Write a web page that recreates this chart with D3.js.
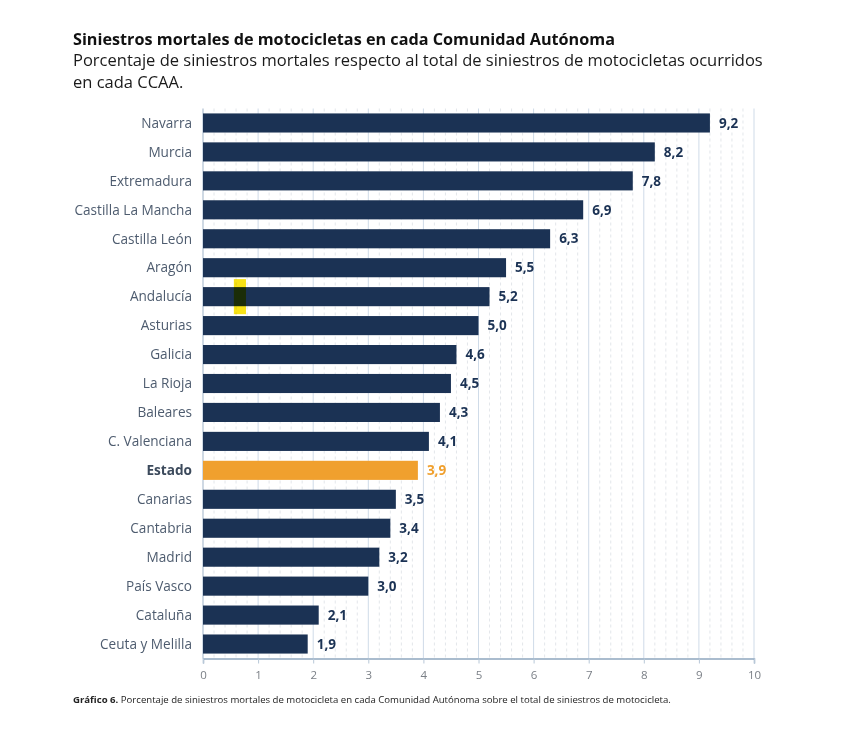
<!DOCTYPE html>
<html>
<head>
<meta charset="utf-8">
<script src="https://cdn.jsdelivr.net/npm/d3@7"></script>
<style>
  body { margin: 0; background: #fff; }
  svg { display: block; }
</style>
</head>
<body>
<svg id="chart" width="862" height="752"></svg>
<script>
const regions = ['Navarra', 'Murcia', 'Extremadura', 'Castilla La Mancha', 'Castilla León', 'Aragón',
  'Andalucía', 'Asturias', 'Galicia', 'La Rioja', 'Baleares', 'C. Valenciana', 'Estado', 'Canarias',
  'Cantabria', 'Madrid', 'País Vasco', 'Cataluña', 'Ceuta y Melilla'];
const values = [9.2, 8.2, 7.8, 6.9, 6.3, 5.5, 5.2, 5.0, 4.6, 4.5, 4.3, 4.1, 3.9, 3.5, 3.4, 3.2, 3.0, 2.1, 1.9];
const xTicks = [0, 1, 2, 3, 4, 5, 6, 7, 8, 9, 10];
const highlighted = 'Estado';

const title = 'Siniestros mortales de motocicletas en cada Comunidad Autónoma';
const subtitle = ['Porcentaje de siniestros mortales respecto al total de siniestros de motocicletas ocurridos',
  'en cada CCAA.'];
const captionBold = 'Gráfico 6.';
const captionText = ' Porcentaje de siniestros mortales de motocicleta en cada Comunidad Autónoma sobre el total de siniestros de motocicleta.';

const navy = '#1b3254';
const orange = '#f0a02e';
const font = '"Open Sans", "Noto Sans", sans-serif';

const data = regions.map((r, i) => ({ region: r, value: values[i] }));

const svg = d3.select('#chart');
const margin = { left: 203, right: 108, top: 108.5, bottom: 93.5 };
const width = 862 - margin.left - margin.right;
const height = 752 - margin.top - margin.bottom;

const x = d3.scaleLinear().domain([0, 10]).range([0, width]);
const y = d3.scaleBand().domain(regions).range([0, height]).paddingInner(0.34).paddingOuter(0.17);

// titles
svg.append('text')
  .attr('x', 73).attr('y', 45)
  .attr('font-family', font).attr('font-weight', 700).attr('font-size', 16)
  .attr('fill', '#111').attr('textLength', 542).attr('lengthAdjust', 'spacingAndGlyphs')
  .text(title);

svg.selectAll('.sub')
  .data(subtitle)
  .join('text')
  .attr('class', 'sub')
  .attr('x', 73).attr('y', (d, i) => 66 + i * 22)
  .attr('font-family', font).attr('font-size', 16.5)
  .attr('fill', '#1a1a1a')
  .text((d) => d);

const g = svg.append('g').attr('transform', `translate(${margin.left},${margin.top})`);

// minor dashed grid
const minor = d3.range(0, 10.001, 0.2).filter((v) => Math.abs(v - Math.round(v)) > 0.01);
g.append('g')
  .selectAll('line')
  .data(minor)
  .join('line')
  .attr('x1', (d) => x(d)).attr('x2', (d) => x(d))
  .attr('y1', 0).attr('y2', height)
  .attr('stroke', '#dcdfe4').attr('stroke-width', 0.8)
  .attr('stroke-dasharray', '3,3');

// major grid
g.append('g')
  .selectAll('line')
  .data(xTicks.slice(1))
  .join('line')
  .attr('x1', (d) => x(d)).attr('x2', (d) => x(d))
  .attr('y1', 0).attr('y2', height)
  .attr('stroke', '#cfdbe8').attr('stroke-width', 1);

// left axis line
g.append('line')
  .attr('x1', 0).attr('x2', 0).attr('y1', 0).attr('y2', height)
  .attr('stroke', '#9fb3c8').attr('stroke-width', 1);

// bars
g.append('g')
  .selectAll('rect')
  .data(data)
  .join('rect')
  .attr('x', 0)
  .attr('y', (d) => y(d.region))
  .attr('width', (d) => x(d.value))
  .attr('height', y.bandwidth())
  .attr('fill', (d) => (d.region === highlighted ? orange : navy));

// value labels
g.append('g')
  .selectAll('text')
  .data(data)
  .join('text')
  .attr('x', (d) => x(d.value) + 9)
  .attr('y', (d) => y(d.region) + y.bandwidth() / 2)
  .attr('dy', '0.35em')
  .attr('font-family', font).attr('font-weight', 700).attr('font-size', 13.5)
  .attr('fill', (d) => (d.region === highlighted ? orange : navy))
  .text((d) => d.value.toFixed(1).replace('.', ','));

// category labels
g.append('g')
  .selectAll('text')
  .data(data)
  .join('text')
  .attr('x', -11)
  .attr('y', (d) => y(d.region) + y.bandwidth() / 2)
  .attr('dy', '0.35em')
  .attr('text-anchor', 'end')
  .attr('font-family', font).attr('font-size', 13.6)
  .attr('font-weight', (d) => (d.region === highlighted ? 700 : 400))
  .attr('fill', (d) => (d.region === highlighted ? '#3c4a5c' : '#4e5c6f'))
  .text((d) => d.region);

// highlighter mark over Andalucía
g.append('rect')
  .attr('x', x(0.56))
  .attr('y', y('Andalucía') - 8)
  .attr('width', x(0.78) - x(0.56))
  .attr('height', y.bandwidth() + 16)
  .attr('fill', '#f7e217')
  .style('mix-blend-mode', 'multiply');

// x axis
const xAxis = g.append('g')
  .attr('transform', `translate(0,${height})`)
  .call(d3.axisBottom(x).tickValues(xTicks).tickSize(5).tickPadding(7).tickFormat(d3.format('d')));
xAxis.select('.domain').attr('stroke', '#8ea6bf').attr('stroke-width', 1.5);
xAxis.selectAll('.tick line').attr('stroke', '#b8c8d8');
xAxis.selectAll('.tick text')
  .attr('font-family', font).attr('font-size', 11.5).attr('fill', '#7a7f86');

// caption
const cap = svg.append('text')
  .attr('x', 73).attr('y', 703)
  .attr('font-family', font).attr('font-size', 9.6).attr('fill', '#222');
cap.append('tspan').attr('font-weight', 700).text(captionBold);
cap.append('tspan').text(captionText);
</script>
</body>
</html>
